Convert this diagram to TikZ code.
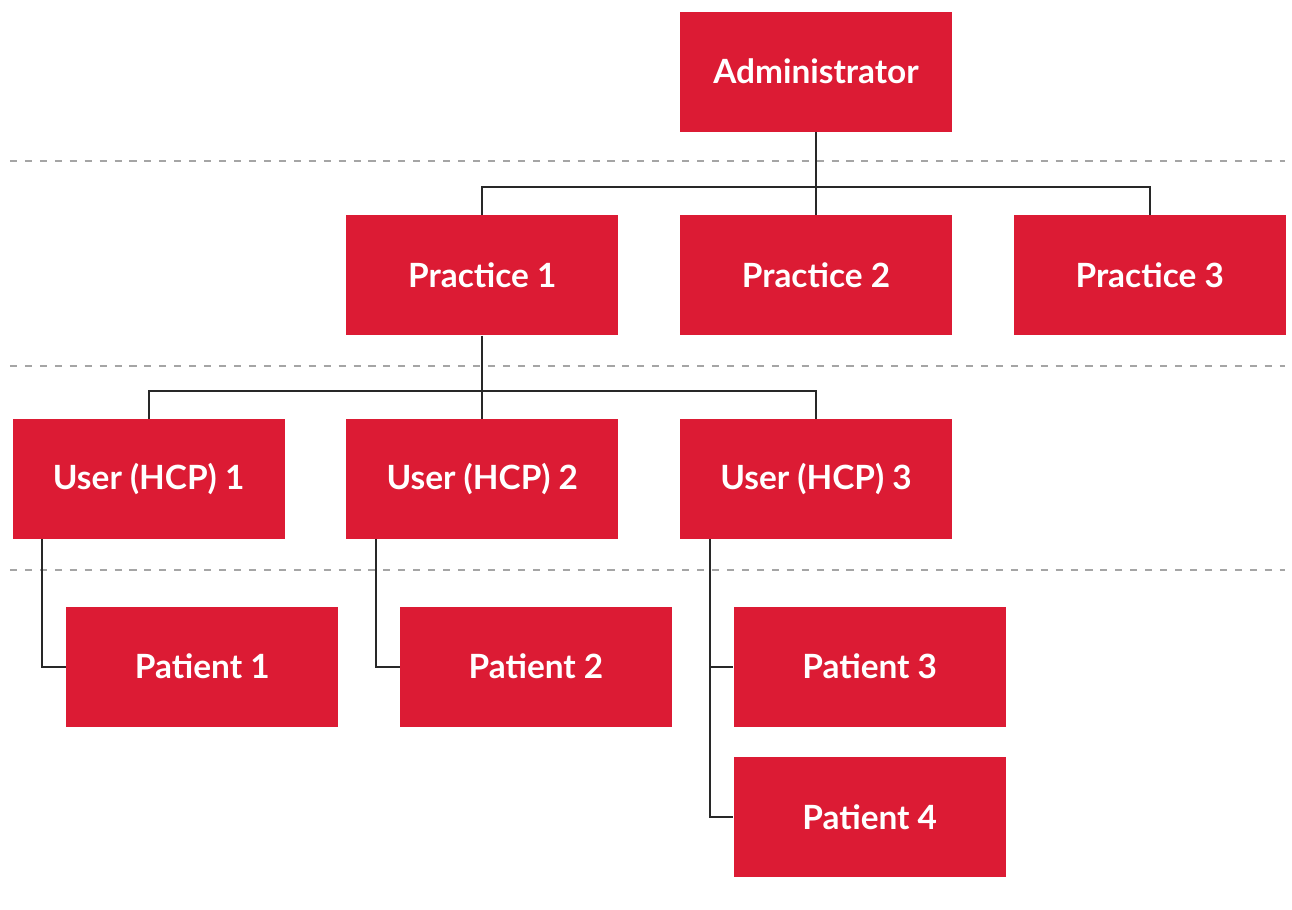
\documentclass[tikz,border=0pt]{standalone}
\usepackage{fontspec}
\setmainfont{Lato}
\usepackage{tikz}
\usetikzlibrary{positioning,calc}
\definecolor{boxred}{RGB}{220,27,52}
\definecolor{tiergrey}{RGB}{165,165,165}
\definecolor{linkgrey}{RGB}{40,40,40}
\tikzset{
  rolebox/.style={rectangle,fill=boxred,text=white,font=\bfseries\fontsize{19}{22}\selectfont,minimum width=5.44cm,minimum height=2.4cm,inner sep=0pt},
  link/.style={draw=linkgrey,line width=1.2pt},
  tier/.style={draw=tiergrey,line width=1pt,dash pattern=on 4pt off 4.5pt}
}

\begin{document}
\begin{tikzpicture}[node distance=1.66cm and 1.22cm]
  \useasboundingbox (0,0) rectangle (25.84,-18.18);

  % tier separators
  \draw[tier] (0.2,-3.22) -- (25.7,-3.22);
  \draw[tier] (0.2,-7.32) -- (25.7,-7.32);
  \draw[tier] (0.2,-11.40) -- (25.7,-11.40);

  \node[rolebox] (admin) at (16.32,-1.43) {Administrator};

  \node[rolebox,below=of admin] (prac2) {Practice 2};
  \node[rolebox,left=of prac2] (prac1) {Practice 1};
  \node[rolebox,right=of prac2] (prac3) {Practice 3};

  \node[rolebox,below=of prac1] (user2) {User (HCP) 2};
  \node[rolebox,left=of user2] (user1) {User (HCP) 1};
  \node[rolebox,right=of user2] (user3) {User (HCP) 3};

  \node[rolebox,below right=1.34cm and -4.38cm of user1] (pat1) {Patient 1};
  \node[rolebox,below right=1.34cm and -4.38cm of user2] (pat2) {Patient 2};
  \node[rolebox,below right=1.34cm and -4.38cm of user3] (pat3) {Patient 3};
  \node[rolebox,below=0.6cm of pat3] (pat4) {Patient 4};

  \draw[link] (admin.south) -- (prac2.north);
  \draw[link] (prac1.north) |- ($(admin.south)!0.667!(prac2.north)$) -| (prac3.north);

  \draw[link] (prac1.south) -- (user2.north);
  \draw[link] (user1.north) |- ($(prac1.south)!0.667!(user2.north)$) -| (user3.north);

  \draw[link] ([xshift=0.6cm]user1.south west) |- (pat1.west);
  \draw[link] ([xshift=0.6cm]user2.south west) |- (pat2.west);
  \draw[link] ([xshift=0.6cm]user3.south west) |- (pat4.west);
  \draw[link] ([xshift=0.6cm]user3.south west |- pat3.west) -- (pat3.west);
\end{tikzpicture}
\end{document}
